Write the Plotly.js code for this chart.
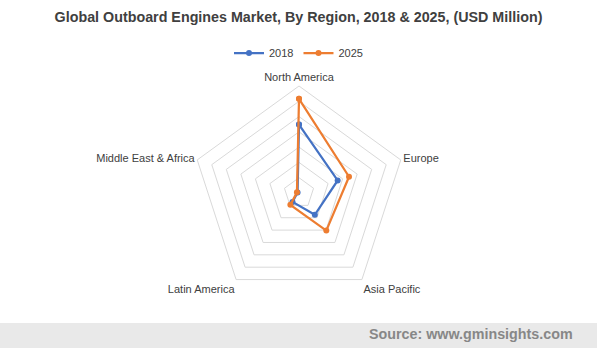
<!DOCTYPE html>
<html>
<head>
<meta charset="utf-8">
<script src="https://cdn.plot.ly/plotly-3.0.1.min.js"></script>
<style>
html,body{margin:0;padding:0;background:#fff;}
#chart{width:597px;height:348px;}
</style>
</head>
<body>
<div id="chart"></div>
<script>
var regions = ["North America", "Europe", "Asia Pacific", "Latin America", "Middle East & Africa"];
var values2018 = [2240, 1330, 880, 360, 50];
var values2025 = [3080, 1720, 1520, 480, 70];
var seriesNames = ["2018", "2025"];
var colors = ["#4472C4", "#ED7D31"];

function closed(a){ return a.concat([a[0]]); }

var traces = [values2018, values2025].map(function(v, i){
  return {
    type: "scatterpolar",
    r: closed(v),
    theta: closed(regions),
    name: seriesNames[i],
    mode: "lines+markers",
    line: {color: colors[i], width: 2.25},
    marker: {color: colors[i], size: 6},
    hoverinfo: "skip"
  };
});

var W = 597, H = 348;
var cx = 299, cy = 193, R = 107;

var layout = {
  width: W, height: H,
  margin: {l: 0, r: 0, t: 0, b: 0},
  paper_bgcolor: "#ffffff",
  font: {family: "Liberation Sans, Arial, sans-serif", color: "#404040", size: 11},
  title: {
    text: "<b>Global Outboard Engines Market, By Region, 2018 & 2025, (USD Million)</b>",
    font: {size: 14.3, color: "#404040", family: "Liberation Sans, Arial, sans-serif"},
    x: 0.5, xanchor: "center", y: 1 - 17/H, yanchor: "middle", yref: "paper"
  },
  showlegend: true,
  legend: {
    orientation: "h", x: 0.5, xanchor: "center", y: 1 - 53/H, yanchor: "middle",
    font: {size: 11, color: "#404040"}, itemwidth: 30, tracegroupgap: 0
  },
  polar: {
    domain: {x: [(cx - R)/W, (cx + R)/W], y: [1 - (cy + R)/H, 1 - (cy - R)/H]},
    gridshape: "linear",
    bgcolor: "rgba(0,0,0,0)",
    radialaxis: {
      range: [0, 3500], dtick: 500, tick0: 0,
      showticklabels: false, ticks: "", showline: false,
      gridcolor: "#d9d9d9", gridwidth: 1
    },
    angularaxis: {
      rotation: 90, direction: "clockwise",
      showgrid: false, showline: true, linecolor: "#d9d9d9", linewidth: 1,
      ticks: "", tickfont: {size: 11, color: "#404040"}
    }
  },
  shapes: [{
    type: "rect", xref: "paper", yref: "paper",
    x0: 0, x1: 1, y0: 0, y1: 1 - 323/H,
    fillcolor: "#e9e9e9", line: {width: 0}, layer: "below"
  }],
  annotations: [{
    text: "<b>Source: www.gminsights.com</b>",
    xref: "paper", yref: "paper",
    x: 575/W, xanchor: "right", y: 1 - 334/H, yanchor: "middle",
    showarrow: false, font: {size: 14.3, color: "#878787"}
  }]
};

Plotly.newPlot("chart", traces, layout, {displayModeBar: false, staticPlot: true});
</script>
</body>
</html>
